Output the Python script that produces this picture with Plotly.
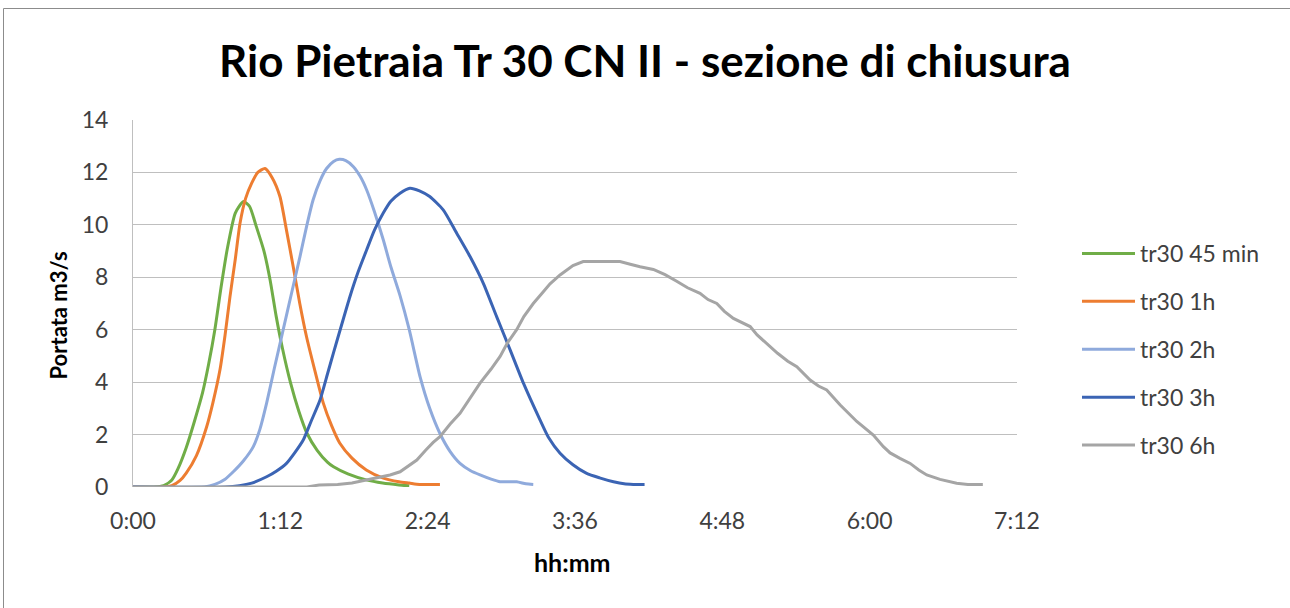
import plotly.graph_objects as go

# time in minutes, discharge in m3/s
t_45 = [0, 10, 15, 19, 22, 26, 30, 34, 37, 40, 43, 46, 50, 54, 57, 60, 64, 67, 70, 73, 77, 81, 85, 90, 95, 98, 105, 114, 122, 130, 135]
q_45 = [0, 0, 0.05, 0.27, 0.7, 1.5, 2.5, 3.6, 4.7, 6.0, 7.6, 9.05, 10.45, 10.89, 10.7, 10.0, 9.0, 7.9, 6.5, 5.3, 3.97, 2.9, 2.05, 1.4, 0.95, 0.77, 0.5, 0.27, 0.15, 0.08, 0.05]

t_1h = [0, 15, 19, 23, 26, 31, 36, 39, 42.5, 45, 47.4, 50, 52.3, 55, 58, 61, 64.5, 68, 71.8, 75, 78.3, 81.5, 84.8, 89, 93, 97, 101, 107, 114, 122, 130, 135, 140, 150]
q_1h = [0, 0, 0.05, 0.25, 0.53, 1.2, 2.3, 3.2, 4.47, 5.8, 7.26, 8.7, 10.06, 11.0, 11.59, 12.0, 12.15, 11.8, 11.08, 9.8, 8.4, 7.0, 5.73, 4.4, 3.2, 2.35, 1.68, 1.1, 0.65, 0.35, 0.2, 0.15, 0.1, 0.1]

t_2h = [0, 35, 40, 45, 49, 54, 58.8, 62, 65.3, 69, 73.4, 77.5, 81.6, 85, 88, 91.5, 94.6, 98, 100.8, 104, 107.7, 111, 114.2, 118, 122.3, 126, 130.5, 135, 140.3, 145, 150, 155, 159.8, 165, 169.6, 175, 179.4, 187.5, 192, 195.6]
q_2h = [0, 0, 0.1, 0.3, 0.58, 1.0, 1.54, 2.2, 3.2, 4.5, 6.0, 7.4, 8.79, 10.0, 10.95, 11.7, 12.15, 12.42, 12.5, 12.45, 12.22, 11.85, 11.33, 10.5, 9.43, 8.4, 7.3, 6.0, 4.2, 3.0, 2.04, 1.35, 0.9, 0.62, 0.46, 0.3, 0.2, 0.2, 0.12, 0.1]

t_3h = [0, 45, 52, 58, 65.3, 70, 75, 79, 83.2, 87, 91.4, 95, 97.9, 102, 106, 110, 114.2, 118, 122.3, 126, 130.5, 135.3, 140, 145, 151.6, 158.2, 164.7, 171.2, 177.7, 184.3, 190.8, 198.9, 203, 208.7, 215, 221.7, 228, 234.8, 240, 244.5, 250]
q_3h = [0, 0, 0.05, 0.15, 0.39, 0.6, 0.9, 1.3, 1.79, 2.5, 3.32, 4.3, 5.1, 6.2, 7.26, 8.2, 9.05, 9.8, 10.45, 10.9, 11.21, 11.4, 11.3, 11.08, 10.57, 9.68, 8.79, 7.77, 6.5, 5.23, 3.96, 2.56, 1.9, 1.29, 0.85, 0.52, 0.35, 0.2, 0.12, 0.1, 0.1]

t_6h = [0, 85, 91, 100, 107, 114, 120, 125.6, 130.5, 135.4, 138.7, 143, 146.7, 150, 155, 159.8, 165, 169.6, 175, 179.4, 183, 187.5, 191, 195.6, 200, 203.8, 208.7, 215, 220, 230, 238, 243, 247.8, 254.3, 260, 265.7, 271, 277.1, 281, 285.3, 289, 293.4, 297, 301.6, 305, 309.7, 315, 320, 324.4, 330.9, 335, 339, 345.6, 353.7, 361.8, 366.7, 370, 374.8, 379.8, 384, 387.9, 394.4, 402.5, 408, 415.3]
q_6h = [0, 0, 0.08, 0.1, 0.15, 0.27, 0.35, 0.46, 0.58, 0.84, 1.03, 1.4, 1.7, 1.92, 2.4, 2.81, 3.4, 3.96, 4.5, 4.98, 5.5, 6.0, 6.5, 7.0, 7.4, 7.75, 8.09, 8.45, 8.6, 8.6, 8.6, 8.5, 8.4, 8.3, 8.1, 7.85, 7.6, 7.39, 7.15, 7.0, 6.7, 6.43, 6.3, 6.12, 5.8, 5.48, 5.1, 4.8, 4.59, 4.08, 3.85, 3.7, 3.13, 2.5, 1.98, 1.54, 1.3, 1.09, 0.9, 0.65, 0.46, 0.29, 0.14, 0.1, 0.1]

series_names = ["tr30 45 min", "tr30 1h", "tr30 2h", "tr30 3h", "tr30 6h"]
series_t = [t_45, t_1h, t_2h, t_3h, t_6h]
series_q = [q_45, q_1h, q_2h, q_3h, q_6h]
colors = ["#70AD47", "#ED7D31", "#8FAADC", "#3B64B4", "#A5A5A5"]
shapes_line = ["spline", "spline", "spline", "spline", "linear"]

x_tickvals = [0, 72, 144, 216, 288, 360, 432]
x_ticktext = ["0:00", "1:12", "2:24", "3:36", "4:48", "6:00", "7:12"]
y_tickvals = [0, 2, 4, 6, 8, 10, 12, 14]

FONT = "Lato"

fig = go.Figure()
for name, tt, qq, c, sh in zip(series_names, series_t, series_q, colors, shapes_line):
    fig.add_trace(go.Scatter(
        x=tt, y=qq, name=name, mode="lines", legendgroup=name,
        line=dict(color=c, width=3, shape=sh, smoothing=0.6 if sh == "spline" else None),
    ))

L, R, T, B = 133, 1017, 120, 487
W, H = 1290, 608

def px_x(px):
    return (px - L) / (R - L)

def px_y(py):
    return (B - py) / (B - T)

fig.update_layout(
    width=W, height=H,
    margin=dict(l=L, r=W - R, t=T, b=H - B, pad=0),
    paper_bgcolor="white", plot_bgcolor="white",
    font=dict(family=FONT, size=23, color="#404040"),
    title=dict(text="<b>Rio Pietraia Tr 30 CN II - sezione di chiusura</b>",
               x=0.5, xref="container", xanchor="center",
               y=1 - 62 / H, yref="container", yanchor="middle",
               font=dict(family=FONT, size=44, color="#000000")),
    xaxis=dict(range=[0, 432], tickmode="array", tickvals=x_tickvals, ticktext=x_ticktext,
               showgrid=False, zeroline=False, showline=False, ticks="",
               ticklabelstandoff=18, tickfont=dict(size=23)),
    yaxis=dict(range=[0, 14], tickmode="array", tickvals=y_tickvals,
               showgrid=True, gridcolor="#BFBFBF", gridwidth=1, zeroline=False,
               showline=True, linecolor="#BFBFBF", linewidth=1, ticks="",
               ticklabelstandoff=19, tickfont=dict(size=23)),
    legend=dict(x=px_x(1077), xanchor="left", y=px_y(349.5), yanchor="middle",
                font=dict(size=23, color="#404040"), tracegroupgap=15, itemwidth=53,
                bgcolor="rgba(0,0,0,0)"),
    annotations=[
        dict(text="<b>hh:mm</b>", xref="paper", yref="paper", x=px_x(572.5), y=px_y(562),
             xanchor="center", yanchor="middle", showarrow=False,
             font=dict(family=FONT, size=25, color="#000000")),
        dict(text="<b>Portata m3/s</b>", xref="paper", yref="paper", x=px_x(57.5), y=px_y(316),
             xanchor="center", yanchor="middle", showarrow=False, textangle=-90,
             font=dict(family=FONT, size=22, color="#000000")),
    ],
    shapes=[dict(type="rect", xref="paper", yref="paper",
                 x0=px_x(3.5), x1=px_x(W + 20),
                 y0=px_y(H + 20), y1=px_y(8.5),
                 line=dict(color="#8C8C8C", width=1), fillcolor="rgba(0,0,0,0)", layer="below")],
)

fig.write_html("out.html")
